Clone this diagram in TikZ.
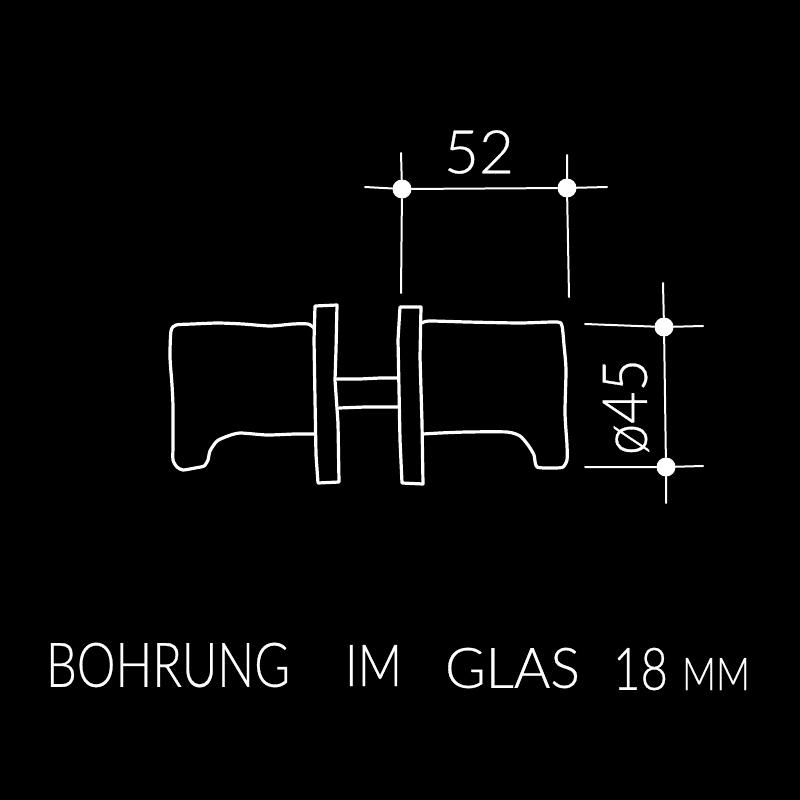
\documentclass[tikz,border=0pt]{standalone}
\usepackage{fontspec}
\usepackage{graphicx}
\setmainfont[FakeBold=0.5]{Lato Light}
\tikzset{
  outline/.style={draw=white,line width=3.2pt,line join=round,line cap=round},
  dimline/.style={draw=white,line width=2pt,line cap=round,line join=round},
  dimdot/.style={circle,fill=white,draw=none,minimum size=19pt,inner sep=0pt},
  handtext/.style={text=white,inner sep=0pt,outer sep=0pt}
}
\newcommand{\fitword}[3]{\resizebox{#1pt}{#2pt}{#3}}
\begin{document}
\begin{tikzpicture}[x=1pt,y=-1pt]
\useasboundingbox (0,0) rectangle (800,800);
\fill[black] (0,0) rectangle (800,800);
% left knob
\draw[outline] plot[smooth,tension=.4] coordinates {(314,328) (308,324) (293,324) (270,326) (243,324) (218,323) (193,324) (176,325) (171,331) (170,357) (172,385) (173,407) (173,445) (173,460) (177,467) (183,470) (195,468) (204,466) (208,460) (210,451) (217,441) (228,436) (240,433) (267,435) (295,434) (314,434)};
% right knob
\draw[outline] plot[smooth,tension=.4] coordinates {(422,323) (429,321) (467,322) (520,323) (557,322) (562,326) (564,345) (566,370) (565,413) (567,445) (567,460) (563,467) (555,468) (537,467) (534,455) (528,445) (520,436) (507,432) (467,432) (440,433) (423,434)};
% plates
\draw[outline] (315,306) -- (337,305) -- (336,350) -- (335,380) -- (338,423) -- (339,482) -- (318,483) -- (316,455) -- (315,400) -- (314,340) -- cycle;
\draw[outline] (400,307) -- (421,307) -- (420,357) -- (422,423) -- (423,484) -- (402,483) -- (400,440) -- (399,390) -- (398,340) -- cycle;
% spindle
\draw[outline] (337,379) -- (360,379) -- (380,378) -- (398,378);
\draw[outline] (339,408) -- (365,407) -- (385,407) -- (399,407);
% dimension points
\node[dimdot] (a) at (402,189) {};
\node[dimdot] (b) at (567,188) {};
\node[dimdot] (c) at (664,327) {};
\node[dimdot] (d) at (666,467) {};
\coordinate (al) at (365,187);
\coordinate (br) at (607,187);
\coordinate (at) at (401,153);
\coordinate (ab) at (401,293);
\coordinate (bt) at (567,155);
\coordinate (bb) at (569,297);
\coordinate (cl) at (585,324);
\coordinate (cr) at (703,326);
\coordinate (dl) at (585,467);
\coordinate (dr) at (703,466);
\coordinate (ct) at (663,283);
\coordinate (db) at (666,503);
\draw[dimline] (al) -- (a) -- (b) -- (br);
\draw[dimline] (at) -- (a) -- (ab);
\draw[dimline] (bt) -- (b) -- (bb);
\draw[dimline] (cl) -- (c) -- (cr);
\draw[dimline] (dl) -- (d) -- (dr);
\draw[dimline] (ct) -- (c) -- (d) -- (db);
% texts
\node[handtext] (t52) at (479,152) {\fitword{70}{43}{52}};
\node[handtext,rotate=90] (t45) at (626,407) {\fitword{96}{44}{ø45}};
\node[handtext] (w1) at (168,665) {\fitword{244}{44}{BOHRUNG}};
\node[handtext] (w2) at (373.5,665.5) {\fitword{57}{41}{IM}};
\node[handtext] (w3) at (512.5,668) {\fitword{135}{40}{GLAS}};
\node[handtext] (w4) at (640.5,669) {\fitword{55}{42}{18}};
\node[handtext] (w5) at (716,674) {\fitword{68}{32}{MM}};
\end{tikzpicture}
\end{document}
